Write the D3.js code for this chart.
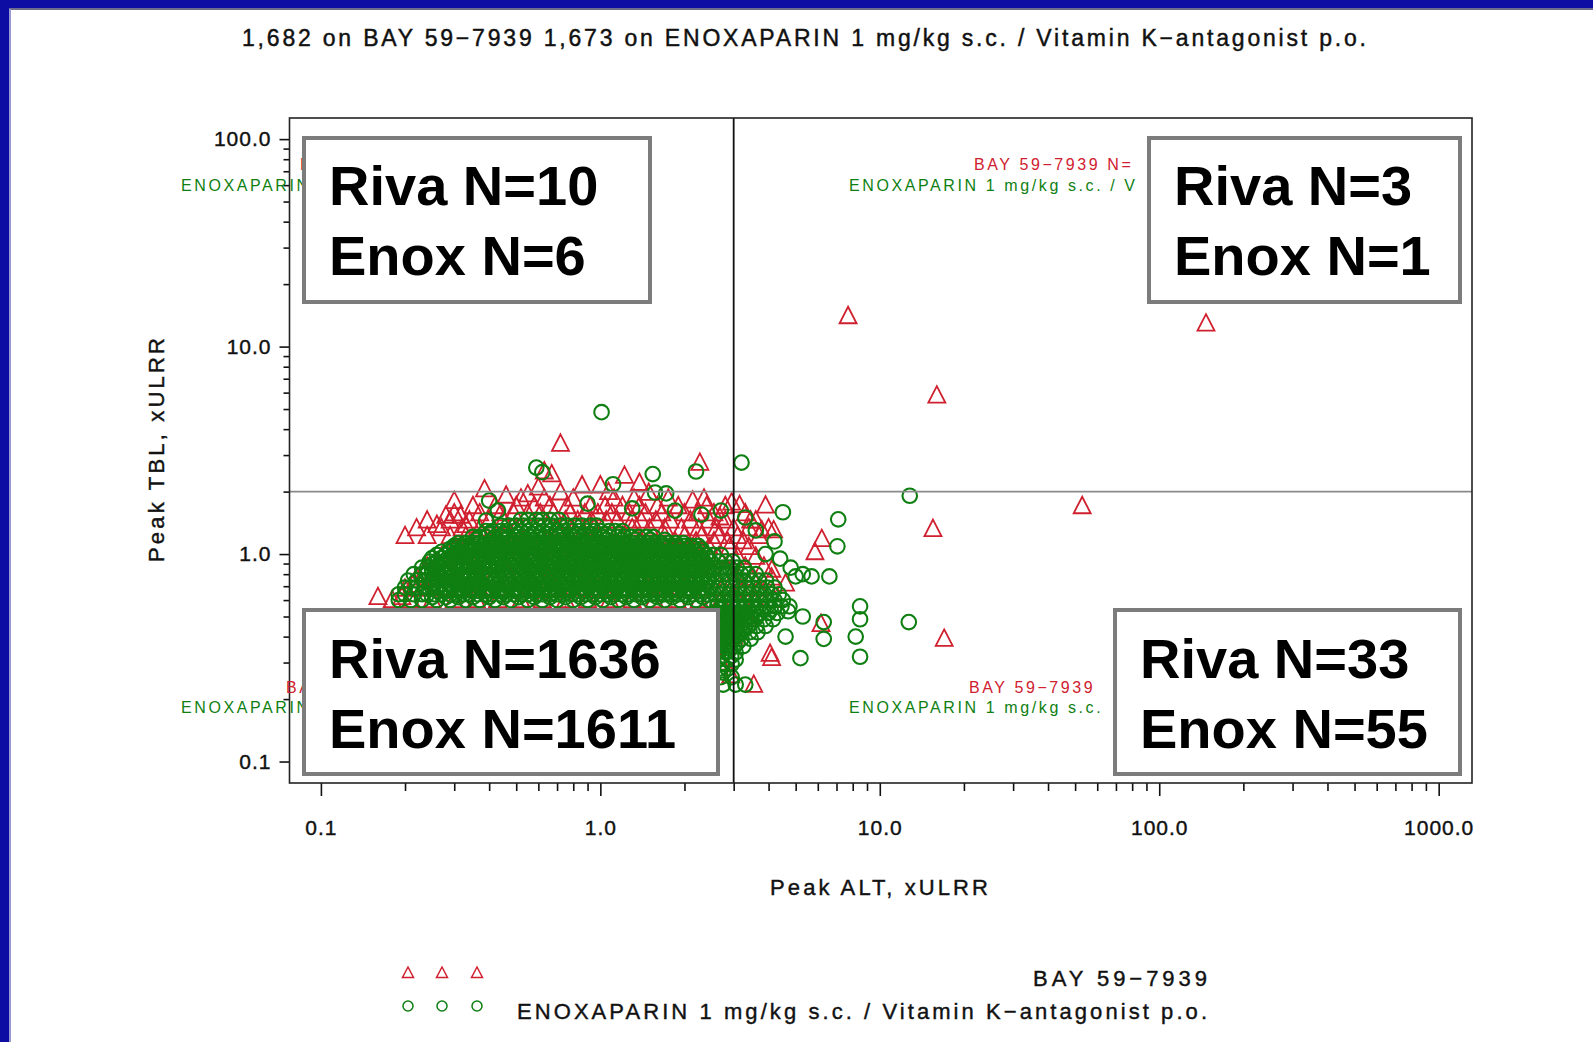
<!DOCTYPE html>
<html>
<head>
<meta charset="utf-8">
<script src="https://cdn.jsdelivr.net/npm/d3@7"></script>
<style>
  body { margin: 0; background: #fff; }
  svg { display: block; }
</style>
</head>
<body>
<script>
// ---------- chart data ----------
var titleText = "1,682 on BAY 59\u22127939   1,673 on ENOXAPARIN 1 mg/kg s.c. / Vitamin K\u2212antagonist p.o.";
var xLabel = "Peak ALT, xULRR";
var yLabel = "Peak TBL, xULRR";
var seriesNames = ["BAY 59\u22127939", "ENOXAPARIN 1 mg/kg s.c. / Vitamin K\u2212antagonist p.o."];

var xMajor = [0.1, 1, 10, 100, 1000];
var xMajorLabels = ["0.1", "1.0", "10.0", "100.0", "1000.0"];
var xMinor = [0.2, 0.3, 0.4, 0.5, 0.6, 0.7, 0.8, 0.9, 2, 3, 4, 5, 6, 7, 8, 9,
              20, 30, 40, 50, 60, 70, 80, 90, 200, 300, 400, 500, 600, 700, 800, 900];
var yMajor = [0.1, 1, 10, 100];
var yMajorLabels = ["0.1", "1.0", "10.0", "100.0"];
var yMinor = [0.2, 0.3, 0.4, 0.5, 0.6, 0.7, 0.8, 0.9, 2, 3, 4, 5, 6, 7, 8, 9,
              20, 30, 40, 50, 60, 70, 80, 90];

var altCut = 3;   // 3 x ULRR
var tblCut = 2;   // 2 x ULRR

// quadrant order: upper-left, upper-right, lower-left, lower-right
var rivaCounts = [10, 3, 1636, 33];
var enoxCounts = [6, 1, 1611, 55];
// what is left visible of the SAS quadrant labels next to each box
var bayLabelParts = ["B", "BAY 59\u22127939 N=", "BA", "BAY 59\u22127939"];
var enoxLabelParts = ["ENOXAPARIN", "ENOXAPARIN 1 mg/kg s.c. / V", "ENOXAPARIN", "ENOXAPARIN 1 mg/kg s.c."];

// BAY 59-7939 (triangles): single points [ALT, TBL]
var bayPoints = [
  [7.7, 14.0], [147, 12.9], [16.0, 5.8], [53, 1.7], [15.5, 1.32], [17.0, 0.39],
  [0.72, 3.4], [2.27, 2.75], [0.63, 2.5], [0.67, 2.42], [1.22, 2.38], [0.86, 2.14],
  [1.0, 2.14], [0.6, 2.09], [0.385, 2.05], [1.38, 2.2],
  [0.46, 1.91], [0.55, 1.94], [0.72, 1.98], [1.07, 1.99], [1.49, 1.97], [2.14, 1.81],
  [2.95, 1.77], [3.15, 1.72], [3.9, 1.71], [2.68, 1.5], [3.45, 1.45], [3.78, 1.3],
  [4.17, 1.3], [6.2, 1.18], [5.86, 1.02], [4.11, 0.84], [4.6, 0.72],
  [4.1, 0.315], [3.54, 0.234], [6.16, 0.46], [3.3, 0.53], [2.93, 0.26], [4.05, 0.33],
  [0.16, 0.62], [0.195, 0.62], [0.213, 0.71], [0.258, 0.76], [0.235, 0.83],
  [0.26, 1.38], [0.28, 1.53], [0.3, 1.8], [0.316, 1.53], [0.33, 1.38]
];
// BAY 59-7939: the dense cloud, read row by row as [TBL, [ALT ...]]
var bayRows = [
  [1.85, [0.52, 0.63, 0.8, 1.12, 1.32, 1.75, 2.35]],
  [1.7, [0.35, 0.42, 0.5, 0.58, 0.66, 0.76, 0.92, 1.04, 1.2, 1.38, 1.6, 1.9, 2.4, 2.8]],
  [1.57, [0.3, 0.37, 0.44, 0.49, 0.55, 0.61, 0.68, 0.78, 0.88, 0.98, 1.1, 1.27, 1.45, 1.66, 2.0, 2.22, 2.55, 3.3]],
  [1.45, [0.24, 0.29, 0.34, 0.4, 0.45, 0.75, 0.83, 0.93, 1.05, 1.15, 1.3, 1.4, 1.58, 1.78, 2.1, 2.45, 2.8, 3.6]],
  [1.33, [0.22, 0.27, 0.32, 0.37, 0.5, 0.7, 0.95, 1.3, 1.5, 1.7, 1.95, 2.25, 2.6, 3.0, 3.4, 4.0]],
  [1.22, [0.2, 0.24, 0.29, 0.33, 0.45, 0.62, 0.85, 1.2, 1.7, 2.0, 2.3, 2.65, 3.1, 3.7]],
  [1.15, [0.4, 0.53, 0.7, 0.92, 1.1, 1.4, 1.85, 2.2, 2.55, 2.85, 3.25]],
  [1.08, [0.3, 0.35, 0.41, 0.48, 0.56, 0.65, 0.75, 0.87, 1.0, 1.15, 1.33, 1.55, 1.8, 2.1, 2.45, 2.9, 3.4]],
  [0.97, [0.27, 0.32, 0.37, 0.43, 0.5, 0.58, 0.68, 0.79, 0.92, 1.07, 1.24, 1.44, 1.68, 1.95, 2.27, 2.65, 3.1, 3.6]],
  [0.87, [0.24, 0.28, 0.33, 0.39, 0.45, 0.53, 0.62, 0.72, 0.84, 0.98, 1.14, 1.32, 1.54, 1.79, 2.08, 2.42, 2.82, 3.3, 3.85]],
  [0.77, [0.22, 0.26, 0.3, 0.35, 0.41, 0.48, 0.56, 0.65, 0.76, 0.88, 1.03, 1.2, 1.4, 1.63, 1.9, 2.2, 2.57, 3.0, 3.5, 4.1]],
  [0.68, [0.2, 0.23, 0.27, 0.32, 0.37, 0.43, 0.5, 0.59, 0.69, 0.8, 0.93, 1.09, 1.27, 1.48, 1.72, 2.0, 2.33, 2.72, 3.18, 3.7]],
  [0.6, [0.18, 0.21, 0.25, 0.3, 0.36, 0.43, 0.52, 0.62, 0.75, 0.9, 1.08, 1.3, 1.56, 1.88, 2.26, 2.7, 3.1, 3.6, 4.2]],
  [0.5, [0.17, 0.22, 0.3, 0.4, 0.55, 0.75, 1.0, 1.35, 1.8, 2.4, 2.9, 3.4]],
  [0.4, [0.2, 0.28, 0.4, 0.58, 0.85, 1.2, 1.7, 2.45, 3.0]],
  [0.3, [0.22, 0.35, 0.55, 0.85, 1.3, 2.0, 2.7]],
  [0.2, [0.3, 0.55, 0.95, 1.6]]
];

// ENOXAPARIN / VKA (circles): single points [ALT, TBL]
var enoxPoints = [
  [1.01, 4.83], [2.2, 2.5], [3.2, 2.76], [12.8, 1.91], [0.62, 2.48], [1.54, 2.43],
  [0.59, 2.61], [1.11, 2.17],
  [1.57, 1.98], [1.72, 1.96], [0.4, 1.81], [0.39, 1.45], [0.43, 1.62], [0.9, 1.75],
  [1.3, 1.66], [1.85, 1.62], [2.3, 1.55], [2.7, 1.62], [3.3, 1.5], [3.6, 1.3],
  [4.2, 1.15], [3.9, 1.0], [4.4, 0.95], [4.8, 0.86], [5.3, 0.8],
  [4.5, 1.59], [7.1, 1.47], [7.05, 1.09], [5.0, 0.78], [5.7, 0.78], [6.6, 0.78],
  [12.7, 0.47], [8.5, 0.56], [8.5, 0.485], [8.2, 0.4], [8.5, 0.32], [6.3, 0.47],
  [6.3, 0.39], [5.2, 0.315], [4.6, 0.4], [4.7, 0.53], [5.3, 0.5]
];
// ENOXAPARIN / VKA: the dense cloud, row by row as [TBL, [ALT ...]]
var enoxRows = [
  [1.46, [0.52, 0.55, 0.59, 0.62, 0.66, 0.71]],
  [1.37, [0.44, 0.47, 0.5, 0.53, 0.56, 0.6, 0.63, 0.67, 0.72, 0.76, 0.81, 0.86, 0.92, 0.97]],
  [1.29, [0.39, 0.41, 0.44, 0.46, 0.49, 0.52, 0.55, 0.59, 0.62, 0.66, 0.7, 0.74, 0.79, 0.84, 0.89, 0.95, 1.0, 1.07, 1.13, 1.2]],
  [1.25, [0.4, 0.45, 0.51, 0.57, 0.64, 0.72, 0.82, 0.92, 1.04, 1.17]],
  [1.21, [0.35, 0.37, 0.39, 0.42, 0.44, 0.47, 0.5, 0.53, 0.56, 0.6, 0.63, 0.67, 0.71, 0.76, 0.8, 0.85, 0.9, 0.96, 1.02, 1.08, 1.15, 1.22, 1.29, 1.37, 1.46, 1.55]],
  [1.17, [0.36, 0.41, 0.46, 0.52, 0.58, 0.65, 0.74, 0.83, 0.93, 1.05, 1.19, 1.33, 1.51, 1.7]],
  [1.13, [0.31, 0.33, 0.35, 0.37, 0.4, 0.42, 0.45, 0.47, 0.5, 0.53, 0.57, 0.6, 0.64, 0.68, 0.72, 0.76, 0.81, 0.86, 0.91, 0.97, 1.03, 1.09, 1.16, 1.23, 1.3, 1.38, 1.47, 1.56, 1.65, 1.75, 1.86, 1.98]],
  [1.095, [0.3, 0.31, 0.33, 0.35, 0.38, 0.4, 0.43, 0.45, 0.48, 0.51, 0.54, 0.57, 0.61, 0.64, 0.68, 0.72, 0.77, 0.81, 0.86, 0.92, 0.97, 1.03, 1.1, 1.16, 1.24, 1.31, 1.39, 1.48, 1.57, 1.66, 1.76, 1.87, 1.99, 2.11, 2.24]],
  [1.06, [0.29, 0.3, 0.32, 0.34, 0.36, 0.39, 0.41, 0.44, 0.46, 0.49, 0.52, 0.55, 0.59, 0.62, 0.66, 0.7, 0.74, 0.79, 0.84, 0.89, 0.94, 1.0, 1.06, 1.13, 1.2, 1.27, 1.35, 1.43, 1.52, 1.61, 1.71, 1.81, 1.93, 2.05, 2.17, 2.3]],
  [1.025, [0.27, 0.29, 0.31, 0.32, 0.34, 0.37, 0.39, 0.41, 0.44, 0.47, 0.5, 0.53, 0.56, 0.6, 0.63, 0.67, 0.71, 0.75, 0.8, 0.85, 0.9, 0.95, 1.01, 1.07, 1.14, 1.21, 1.28, 1.36, 1.44, 1.53, 1.62, 1.72, 1.83, 1.94, 2.06, 2.19, 2.32]],
  [0.99, [0.26, 0.28, 0.3, 0.31, 0.33, 0.35, 0.38, 0.4, 0.42, 0.45, 0.48, 0.51, 0.54, 0.57, 0.61, 0.64, 0.68, 0.73, 0.77, 0.82, 0.87, 0.92, 0.98, 1.04, 1.1, 1.17, 1.24, 1.32, 1.4, 1.48, 1.57, 1.67, 1.77, 1.88, 2.0, 2.12, 2.25, 2.39, 2.54, 2.7]],
  [0.955, [0.25, 0.27, 0.285, 0.3, 0.32, 0.34, 0.36, 0.38, 0.41, 0.43, 0.46, 0.49, 0.52, 0.55, 0.58, 0.62, 0.66, 0.7, 0.74, 0.79, 0.84, 0.89, 0.94, 1.0, 1.06, 1.12, 1.19, 1.26, 1.34, 1.42, 1.51, 1.6, 1.7, 1.81, 1.92, 2.03, 2.16, 2.29, 2.43]],
  [0.92, [0.245, 0.26, 0.275, 0.29, 0.31, 0.33, 0.35, 0.37, 0.39, 0.42, 0.44, 0.47, 0.5, 0.53, 0.56, 0.6, 0.63, 0.67, 0.71, 0.76, 0.8, 0.85, 0.9, 0.96, 1.02, 1.08, 1.15, 1.22, 1.29, 1.37, 1.46, 1.55, 1.64, 1.74, 1.85, 1.96, 2.08, 2.21, 2.35, 2.49, 2.65, 2.81, 2.98]],
  [0.89, [0.25, 0.265, 0.28, 0.3, 0.315, 0.335, 0.355, 0.38, 0.4, 0.43, 0.45, 0.48, 0.51, 0.54, 0.58, 0.61, 0.65, 0.69, 0.73, 0.78, 0.82, 0.87, 0.93, 0.98, 1.04, 1.11, 1.18, 1.25, 1.32, 1.4, 1.49, 1.58, 1.68, 1.78, 1.88, 2.0, 2.12, 2.25, 2.38]],
  [0.86, [0.23, 0.24, 0.255, 0.27, 0.29, 0.305, 0.32, 0.34, 0.36, 0.385, 0.41, 0.43, 0.46, 0.49, 0.52, 0.55, 0.58, 0.62, 0.66, 0.7, 0.74, 0.78, 0.83, 0.88, 0.94, 0.99, 1.05, 1.12, 1.19, 1.26, 1.34, 1.42, 1.5, 1.6, 1.69, 1.8, 1.91, 2.03, 2.15, 2.28, 2.42, 2.57, 2.73, 2.9, 3.08, 3.27]],
  [0.83, [0.25, 0.26, 0.275, 0.29, 0.31, 0.33, 0.35, 0.37, 0.39, 0.42, 0.44, 0.47, 0.5, 0.53, 0.56, 0.59, 0.63, 0.67, 0.71, 0.75, 0.8, 0.85, 0.9, 0.95, 1.01, 1.07, 1.14, 1.21, 1.28, 1.36, 1.44, 1.53, 1.62, 1.72, 1.82, 1.93, 2.05, 2.18, 2.31, 2.45]],
  [0.8, [0.215, 0.23, 0.24, 0.25, 0.265, 0.28, 0.3, 0.32, 0.34, 0.36, 0.38, 0.4, 0.43, 0.45, 0.48, 0.51, 0.54, 0.57, 0.61, 0.65, 0.69, 0.73, 0.77, 0.82, 0.87, 0.92, 0.98, 1.04, 1.1, 1.17, 1.24, 1.31, 1.39, 1.48, 1.57, 1.66, 1.76, 1.87, 1.99, 2.11, 2.24, 2.37, 2.52, 2.67, 2.83, 3.01, 3.19, 3.38, 3.6]],
  [0.772, [0.255, 0.27, 0.29, 0.305, 0.32, 0.34, 0.36, 0.385, 0.41, 0.435, 0.46, 0.49, 0.52, 0.55, 0.58, 0.62, 0.66, 0.7, 0.74, 0.79, 0.84, 0.89, 0.94, 1.0, 1.06, 1.13, 1.2, 1.27, 1.35, 1.43, 1.52, 1.61, 1.71, 1.81, 1.92, 2.04, 2.17, 2.3, 2.44]],
  [0.745, [0.205, 0.22, 0.235, 0.25, 0.265, 0.28, 0.295, 0.31, 0.33, 0.35, 0.37, 0.39, 0.42, 0.44, 0.47, 0.5, 0.53, 0.56, 0.59, 0.63, 0.67, 0.71, 0.75, 0.8, 0.84, 0.9, 0.95, 1.01, 1.07, 1.13, 1.2, 1.28, 1.35, 1.43, 1.52, 1.61, 1.71, 1.82, 1.93, 2.04, 2.17, 2.3, 2.44, 2.59, 2.74, 2.91, 3.09, 3.28, 3.48, 3.7, 3.92]],
  [0.717, [0.255, 0.27, 0.29, 0.305, 0.32, 0.34, 0.36, 0.38, 0.41, 0.43, 0.46, 0.485, 0.515, 0.55, 0.58, 0.62, 0.65, 0.69, 0.74, 0.78, 0.83, 0.88, 0.93, 0.99, 1.05, 1.11, 1.18, 1.25, 1.32, 1.4, 1.49, 1.58, 1.68, 1.78, 1.89, 2.0, 2.12, 2.25, 2.39]],
  [0.69, [0.2, 0.21, 0.22, 0.235, 0.25, 0.26, 0.28, 0.295, 0.315, 0.33, 0.35, 0.37, 0.4, 0.42, 0.45, 0.47, 0.5, 0.53, 0.57, 0.6, 0.64, 0.68, 0.72, 0.76, 0.81, 0.86, 0.91, 0.96, 1.02, 1.08, 1.15, 1.22, 1.29, 1.37, 1.45, 1.54, 1.64, 1.73, 1.84, 1.95, 2.07, 2.19, 2.33, 2.47, 2.62, 2.78, 2.95, 3.12, 3.31, 3.51, 3.73, 3.95, 4.2]],
  [0.665, [0.26, 0.275, 0.29, 0.31, 0.325, 0.345, 0.365, 0.39, 0.41, 0.435, 0.46, 0.49, 0.52, 0.55, 0.58, 0.62, 0.66, 0.7, 0.74, 0.78, 0.83, 0.88, 0.93, 0.99, 1.05, 1.12, 1.18, 1.26, 1.33, 1.41, 1.5, 1.59, 1.69, 1.79, 1.9, 2.01, 2.13, 2.26, 2.4]],
  [0.64, [0.19, 0.2, 0.215, 0.23, 0.24, 0.255, 0.27, 0.29, 0.305, 0.325, 0.34, 0.365, 0.39, 0.41, 0.44, 0.46, 0.49, 0.52, 0.55, 0.59, 0.62, 0.66, 0.7, 0.74, 0.79, 0.84, 0.89, 0.94, 1.0, 1.06, 1.12, 1.19, 1.26, 1.34, 1.42, 1.51, 1.6, 1.7, 1.8, 1.91, 2.02, 2.15, 2.28, 2.41, 2.56, 2.71, 2.88, 3.05, 3.24, 3.43, 3.64, 3.86, 4.1, 4.35]],
  [0.62, [0.25, 0.28, 0.31, 0.35, 0.4, 0.45, 0.51, 0.58, 0.66, 0.75, 0.85, 0.96, 1.09, 1.24, 1.41, 1.6, 1.81, 2.06, 2.33]],
  [0.6, [0.19, 0.21, 0.23, 0.26, 0.29, 0.33, 0.37, 0.42, 0.48, 0.55, 0.62, 0.7, 0.8, 0.9, 1.02, 1.16, 1.32, 1.5, 1.7, 1.93, 2.2, 2.45, 2.62, 2.78, 2.95, 3.12, 3.3, 3.5, 3.72, 3.95, 4.2, 4.5]],
  [0.56, [2.62, 2.78, 2.95, 3.12, 3.3, 3.5, 3.7, 3.95, 4.2, 4.45, 4.75]],
  [0.54, [2.7, 2.87, 3.04, 3.21, 3.4, 3.6, 3.82, 4.07]],
  [0.52, [2.62, 2.78, 2.95, 3.12, 3.32, 3.52, 3.75, 4.0, 4.3]],
  [0.5, [2.7, 2.87, 3.04, 3.22, 3.42, 3.63]],
  [0.485, [2.62, 2.8, 2.98, 3.15, 3.35, 3.58, 3.85, 4.15]],
  [0.467, [2.7, 2.89, 3.07, 3.26, 3.47]],
  [0.45, [2.62, 2.8, 2.98, 3.18, 3.4, 3.62, 3.9]],
  [0.435, [2.7, 2.89, 3.08, 3.29]],
  [0.42, [2.62, 2.8, 3.0, 3.2, 3.42, 3.65]],
  [0.405, [2.7, 2.9, 3.1]],
  [0.39, [2.62, 2.8, 3.0, 3.2, 3.45]],
  [0.375, [2.7, 2.9, 3.1]],
  [0.36, [2.62, 2.82, 3.02, 3.25]],
  [0.348, [2.7, 2.92]],
  [0.335, [2.62, 2.82, 3.05]],
  [0.322, [2.72, 2.94]],
  [0.31, [2.65, 2.85, 3.05]],
  [0.295, [2.72, 2.95]],
  [0.28, [2.65, 2.85]],
  [0.268, [2.75]],
  [0.255, [2.7, 2.95]],
  [0.235, [2.75, 3.05, 3.3]],
  [0.5, [0.2, 0.3, 0.45, 0.7, 1.0, 1.5, 2.2]],
  [0.4, [0.18, 0.28, 0.42, 0.65, 1.0, 1.6, 2.3]],
  [0.3, [0.2, 0.35, 0.6, 1.0, 1.7]],
  [0.2, [0.25, 0.5, 0.9, 1.6]]
];

// ---------- layout ----------
var width = 1593, height = 1042;
var font = '"Liberation Sans", Arial, Helvetica, sans-serif';
var red = "#d0202f", green = "#0f7f12", blue = "#0d0ca3";
var frame = {left: 289.5, top: 118, right: 1472, bottom: 783};

// boxes: upper-left, upper-right, lower-left, lower-right
var boxes = [
  {x: 304, y: 138, w: 346, h: 164, base: [205, 275]},
  {x: 1149, y: 138, w: 311, h: 164, base: [205, 275]},
  {x: 304, y: 610, w: 414, h: 164, base: [678, 748]},
  {x: 1115, y: 610, w: 345, h: 164, base: [678, 748]}
];
// positions of the partly hidden quadrant annotations
var annot = [
  {rx: 300, gx: 181, ry: 170, gy: 191},
  {rx: 974, gx: 849, ry: 170, gy: 191},
  {rx: 286, gx: 181, ry: 693, gy: 713},
  {rx: 969, gx: 849, ry: 693, gy: 713}
];

var x = d3.scaleLog().domain([0.0772, 1316]).range([frame.left, frame.right]);
var y = d3.scaleLog().domain([0.0788, 126.4]).range([frame.bottom, frame.top]);

function flatten(points, rows) {
  var out = points.map(function(p) { return {alt: p[0], tbl: p[1]}; });
  rows.forEach(function(r) {
    r[1].forEach(function(a) { out.push({alt: a, tbl: r[0]}); });
  });
  return out;
}
var bayData = flatten(bayPoints, bayRows);
var enoxData = flatten(enoxPoints, enoxRows);

var triPath = "M0,-9.5L8.5,7L-8.5,7Z";
var triSmall = "M0,-6L5.5,4.5L-5.5,4.5Z";

var svg = d3.select("body").append("svg")
    .attr("width", width)
    .attr("height", height)
    .style("font-family", font);

svg.append("rect").attr("width", width).attr("height", height).attr("fill", "#fff");

// blue slide frame
svg.append("rect").attr("x", 0).attr("y", 0).attr("width", width).attr("height", 8).attr("fill", blue);
svg.append("rect").attr("x", 0).attr("y", 0).attr("width", 9).attr("height", height).attr("fill", blue);
svg.append("line").attr("x1", 9).attr("x2", width).attr("y1", 9).attr("y2", 9)
    .attr("stroke", "#6c6c8c").attr("stroke-width", 2);
svg.append("line").attr("x1", 10).attr("x2", 10).attr("y1", 9).attr("y2", height)
    .attr("stroke", "#9a9ad2").attr("stroke-width", 2);

// title
svg.append("text")
    .attr("x", 804).attr("y", 46)
    .attr("text-anchor", "middle")
    .attr("font-size", 23)
    .attr("textLength", 1124).attr("lengthAdjust", "spacing")
    .attr("fill", "#111").attr("stroke", "#111").attr("stroke-width", 0.45)
    .text(titleText);

// axes
var xMinorAxis = d3.axisBottom(x).tickValues(xMinor).tickSize(8).tickFormat("");
var xMajorAxis = d3.axisBottom(x).tickValues(xMajor).tickSize(13).tickPadding(24)
    .tickFormat(function(d) { return xMajorLabels[xMajor.indexOf(d)]; });
var yMinorAxis = d3.axisLeft(y).tickValues(yMinor).tickSize(6).tickFormat("");
var yMajorAxis = d3.axisLeft(y).tickValues(yMajor).tickSize(10).tickPadding(8)
    .tickFormat(function(d) { return yMajorLabels[yMajor.indexOf(d)]; });

function styleAxis(g) {
  g.select(".domain").remove();
  g.attr("font-family", font).attr("font-size", 21);
  g.selectAll(".tick line").attr("stroke", "#111").attr("stroke-width", 1.6);
  g.selectAll(".tick text").attr("fill", "#111").attr("stroke", "#111").attr("stroke-width", 0.4)
      .style("letter-spacing", "1px");
}
svg.append("g").attr("transform", "translate(0," + frame.bottom + ")").call(xMinorAxis).call(styleAxis);
svg.append("g").attr("transform", "translate(0," + frame.bottom + ")").call(xMajorAxis).call(styleAxis);
svg.append("g").attr("transform", "translate(" + frame.left + ",0)").call(yMinorAxis).call(styleAxis);
svg.append("g").attr("transform", "translate(" + frame.left + ",0)").call(yMajorAxis).call(styleAxis);

// axis titles
svg.append("text")
    .attr("x", 879).attr("y", 895)
    .attr("text-anchor", "middle").attr("font-size", 22)
    .attr("textLength", 218).attr("lengthAdjust", "spacing")
    .attr("fill", "#111").attr("stroke", "#111").attr("stroke-width", 0.4)
    .text(xLabel);
svg.append("text")
    .attr("transform", "translate(164,450) rotate(-90)")
    .attr("text-anchor", "middle").attr("font-size", 22)
    .attr("textLength", 224).attr("lengthAdjust", "spacing")
    .attr("fill", "#111").attr("stroke", "#111").attr("stroke-width", 0.4)
    .text(yLabel);

// points: triangles first, circles on top
var plot = svg.append("g");
plot.selectAll(".tri")
    .data(bayData)
    .enter().append("path")
    .attr("class", "tri")
    .attr("d", triPath)
    .attr("transform", function(d) { return "translate(" + x(d.alt) + "," + y(d.tbl) + ")"; })
    .attr("fill", "none")
    .attr("stroke", red)
    .attr("stroke-width", 1.8);

plot.selectAll(".circ")
    .data(enoxData)
    .enter().append("circle")
    .attr("class", "circ")
    .attr("cx", function(d) { return x(d.alt); })
    .attr("cy", function(d) { return y(d.tbl); })
    .attr("r", 7.3)
    .attr("fill", "none")
    .attr("stroke", green)
    .attr("stroke-width", 2.1);

// reference lines at 3xULRR ALT and 2xULRR TBL
svg.append("line")
    .attr("x1", frame.left).attr("x2", frame.right)
    .attr("y1", y(tblCut)).attr("y2", y(tblCut))
    .attr("stroke", "#8a8a8a").attr("stroke-width", 1.8);
svg.append("line")
    .attr("x1", x(altCut)).attr("x2", x(altCut))
    .attr("y1", frame.top).attr("y2", frame.bottom)
    .attr("stroke", "#111").attr("stroke-width", 1.8);

// plot frame
svg.append("rect")
    .attr("x", frame.left).attr("y", frame.top)
    .attr("width", frame.right - frame.left).attr("height", frame.bottom - frame.top)
    .attr("fill", "none").attr("stroke", "#222").attr("stroke-width", 1.6);

// quadrant annotations (SAS labels, the boxes cover the rest of them)
annot.forEach(function(a, i) {
  svg.append("text")
      .attr("x", a.rx).attr("y", a.ry)
      .attr("font-size", 16).style("letter-spacing", "2.6px")
      .attr("fill", red)
      .text(bayLabelParts[i]);
  svg.append("text")
      .attr("x", a.gx).attr("y", a.gy)
      .attr("font-size", 16).style("letter-spacing", "2.6px")
      .attr("fill", green)
      .text(enoxLabelParts[i]);
});

// quadrant count boxes
boxes.forEach(function(b, i) {
  svg.append("rect")
      .attr("x", b.x).attr("y", b.y).attr("width", b.w).attr("height", b.h)
      .attr("fill", "#fff").attr("stroke", "#7c7c7c").attr("stroke-width", 4);
  svg.append("text")
      .attr("x", b.x + 25).attr("y", b.base[0])
      .attr("font-size", 56).attr("font-weight", "bold").attr("fill", "#000")
      .text("Riva N=" + rivaCounts[i]);
  svg.append("text")
      .attr("x", b.x + 25).attr("y", b.base[1])
      .attr("font-size", 56).attr("font-weight", "bold").attr("fill", "#000")
      .text("Enox N=" + enoxCounts[i]);
});

// legend
var legendX = [408, 442, 477];
svg.selectAll(".legtri")
    .data(legendX).enter().append("path")
    .attr("d", triSmall)
    .attr("transform", function(d) { return "translate(" + d + ",973)"; })
    .attr("fill", "none").attr("stroke", red).attr("stroke-width", 1.5);
svg.selectAll(".legcirc")
    .data(legendX).enter().append("circle")
    .attr("cx", function(d) { return d; }).attr("cy", 1006).attr("r", 5)
    .attr("fill", "none").attr("stroke", green).attr("stroke-width", 1.5);
svg.append("text")
    .attr("x", 1207).attr("y", 986)
    .attr("text-anchor", "end").attr("font-size", 22)
    .attr("textLength", 174).attr("lengthAdjust", "spacing")
    .attr("fill", "#111").attr("stroke", "#111").attr("stroke-width", 0.4)
    .text(seriesNames[0]);
svg.append("text")
    .attr("x", 1207).attr("y", 1019)
    .attr("text-anchor", "end").attr("font-size", 22)
    .attr("textLength", 690).attr("lengthAdjust", "spacing")
    .attr("fill", "#111").attr("stroke", "#111").attr("stroke-width", 0.4)
    .text(seriesNames[1]);
</script>
</body>
</html>
